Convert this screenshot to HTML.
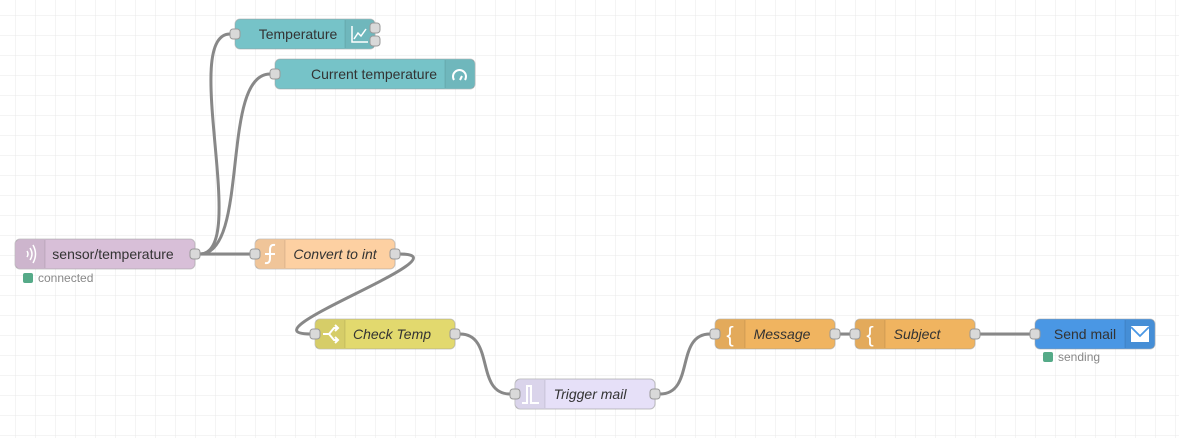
<!DOCTYPE html>
<html><head><meta charset="utf-8"><style>
html,body{margin:0;padding:0;background:#fff;}
svg{display:block;}
text{font-family:"Liberation Sans",sans-serif;font-size:14px;fill:#333;}
.it{font-style:italic;}
.st{font-size:12px;fill:#888;}
</style></head><body>
<svg width="1179" height="438" viewBox="0 0 1179 438" xmlns="http://www.w3.org/2000/svg">
<defs>
<pattern id="g" x="15.5" y="15.5" width="20" height="20" patternUnits="userSpaceOnUse">
<path d="M0 0 H20 M0 0 V20" stroke="#e8e8e8" stroke-width="1" fill="none"/>
</pattern>
</defs>
<rect width="1179" height="438" fill="url(#g)"/>

<g fill="none" stroke="#888" stroke-width="3">
<path d="M200 254 C250 254 180 34 230 34"/>
<path d="M200 254 C250 254 220 74 270 74"/>
<path d="M200 254 L250 254"/>
<path d="M400 254 C470 254 240 334 310 334"/>
<path d="M460 334 C495 334 475 394 510 394"/>
<path d="M660 394 C695 394 675 334 710 334"/>
<path d="M840 334 L850 334"/>
<path d="M980 334 L1030 334"/>
</g>

<!-- Temperature -->
<rect x="235" y="19" width="140" height="30" rx="5" fill="#76c3c8" stroke="#999" stroke-opacity=".5"/>
<rect x="345" y="20" width="29" height="28" fill="#000" opacity=".06"/>
<line x1="345" y1="20" x2="345" y2="48" stroke="#000" stroke-opacity=".1"/>
<path d="M352 26 V42 H368 M354 39 L358 33 L361 36 L366 29" stroke="#fff" stroke-width="1.5" fill="none"/>
<text x="298" y="39" text-anchor="middle">Temperature</text>
<rect x="230" y="29" width="10" height="10" rx="3" fill="#d9d9d9" stroke="#999"/>
<rect x="370" y="23" width="10" height="10" rx="3" fill="#d9d9d9" stroke="#999"/>
<rect x="370" y="36" width="10" height="10" rx="3" fill="#d9d9d9" stroke="#999"/>

<!-- Current temperature -->
<rect x="275" y="59" width="200" height="30" rx="5" fill="#76c3c8" stroke="#999" stroke-opacity=".5"/>
<rect x="445" y="60" width="29" height="28" fill="#000" opacity=".06"/>
<line x1="445" y1="60" x2="445" y2="88" stroke="#000" stroke-opacity=".1"/>
<path d="M454 80 A6.5 6.5 0 1 1 465 80 M460 80 L462 76" stroke="#fff" stroke-width="2" fill="none"/>
<text x="374" y="79" text-anchor="middle">Current temperature</text>
<rect x="270" y="69" width="10" height="10" rx="3" fill="#d9d9d9" stroke="#999"/>

<!-- sensor/temperature -->
<rect x="15" y="239" width="180" height="30" rx="5" fill="#d8bfd8" stroke="#999" stroke-opacity=".5"/>
<rect x="16" y="240" width="29" height="28" fill="#000" opacity=".05"/>
<line x1="45" y1="240" x2="45" y2="268" stroke="#000" stroke-opacity=".1"/>
<path d="M27 251 Q29 254 27 257 M30 248 Q34 254 30 260 M33 245 Q38 254 33 263" stroke="#fff" stroke-width="1.5" fill="none"/>
<text x="113" y="259" text-anchor="middle">sensor/temperature</text>
<rect x="190" y="249" width="10" height="10" rx="3" fill="#d9d9d9" stroke="#999"/>
<rect x="23" y="273" width="10" height="10" rx="2" fill="#5a8"/>
<text x="38" y="282" class="st">connected</text>

<!-- Convert to int -->
<rect x="255" y="239" width="140" height="30" rx="5" fill="#fdd0a2" stroke="#999" stroke-opacity=".5"/>
<rect x="256" y="240" width="29" height="28" fill="#000" opacity=".05"/>
<line x1="285" y1="240" x2="285" y2="268" stroke="#000" stroke-opacity=".1"/>
<path d="M275 245 Q270 244 270 250 V258 Q270 264 265 263 M265 254 H275" stroke="#fff" stroke-width="2" fill="none"/>
<text x="335" y="259" text-anchor="middle" class="it">Convert to int</text>
<rect x="250" y="249" width="10" height="10" rx="3" fill="#d9d9d9" stroke="#999"/>
<rect x="390" y="249" width="10" height="10" rx="3" fill="#d9d9d9" stroke="#999"/>

<!-- Check Temp -->
<rect x="315" y="319" width="140" height="30" rx="5" fill="#e2d96e" stroke="#999" stroke-opacity=".5"/>
<rect x="316" y="320" width="29" height="28" fill="#000" opacity=".05"/>
<line x1="345" y1="320" x2="345" y2="348" stroke="#000" stroke-opacity=".1"/>
<path d="M323 334 H329 L334 328 H337 M329 334 L334 340 H337 M335 325 L338 328 L335 331 M335 337 L338 340 L335 343" stroke="#fff" stroke-width="2" fill="none"/>
<text x="392" y="339" text-anchor="middle" class="it">Check Temp</text>
<rect x="310" y="329" width="10" height="10" rx="3" fill="#d9d9d9" stroke="#999"/>
<rect x="450" y="329" width="10" height="10" rx="3" fill="#d9d9d9" stroke="#999"/>

<!-- Trigger mail -->
<rect x="515" y="379" width="140" height="30" rx="5" fill="#e6e0f8" stroke="#999" stroke-opacity=".6"/>
<rect x="516" y="380" width="29" height="28" fill="#000" opacity=".05"/>
<line x1="545" y1="380" x2="545" y2="408" stroke="#000" stroke-opacity=".1"/>
<path d="M522 403 H527 V386 H531 V403 H539" stroke="#fff" stroke-width="2" fill="none"/>
<text x="590" y="399" text-anchor="middle" class="it">Trigger mail</text>
<rect x="510" y="389" width="10" height="10" rx="3" fill="#d9d9d9" stroke="#999"/>
<rect x="650" y="389" width="10" height="10" rx="3" fill="#d9d9d9" stroke="#999"/>

<!-- Message -->
<rect x="715" y="319" width="120" height="30" rx="5" fill="#f0b460" stroke="#999" stroke-opacity=".5"/>
<rect x="716" y="320" width="29" height="28" fill="#000" opacity=".05"/>
<line x1="745" y1="320" x2="745" y2="348" stroke="#000" stroke-opacity=".1"/>
<text x="730" y="342" text-anchor="middle" style="fill:#fff;font-size:22px">{</text>
<text x="782" y="339" text-anchor="middle" class="it">Message</text>
<rect x="710" y="329" width="10" height="10" rx="3" fill="#d9d9d9" stroke="#999"/>
<rect x="830" y="329" width="10" height="10" rx="3" fill="#d9d9d9" stroke="#999"/>

<!-- Subject -->
<rect x="855" y="319" width="120" height="30" rx="5" fill="#f0b460" stroke="#999" stroke-opacity=".5"/>
<rect x="856" y="320" width="29" height="28" fill="#000" opacity=".05"/>
<line x1="885" y1="320" x2="885" y2="348" stroke="#000" stroke-opacity=".1"/>
<text x="870" y="342" text-anchor="middle" style="fill:#fff;font-size:22px">{</text>
<text x="917" y="339" text-anchor="middle" class="it">Subject</text>
<rect x="850" y="329" width="10" height="10" rx="3" fill="#d9d9d9" stroke="#999"/>
<rect x="970" y="329" width="10" height="10" rx="3" fill="#d9d9d9" stroke="#999"/>

<!-- Send mail -->
<rect x="1035" y="319" width="120" height="30" rx="5" fill="#4a97e4" stroke="#999" stroke-opacity=".5"/>
<rect x="1125" y="320" width="29" height="28" fill="#000" opacity=".06"/>
<line x1="1125" y1="320" x2="1125" y2="348" stroke="#000" stroke-opacity=".1"/>
<rect x="1131" y="326" width="18" height="16" fill="#fff"/>
<path d="M1131 327 L1140 336 L1149 327" stroke="#4a97e4" stroke-width="1.8" fill="none"/>
<text x="1085" y="339" text-anchor="middle">Send mail</text>
<rect x="1030" y="329" width="10" height="10" rx="3" fill="#d9d9d9" stroke="#999"/>
<rect x="1043" y="352" width="10" height="10" rx="2" fill="#5a8"/>
<text x="1058" y="361" class="st">sending</text>
</svg>
</body></html>
